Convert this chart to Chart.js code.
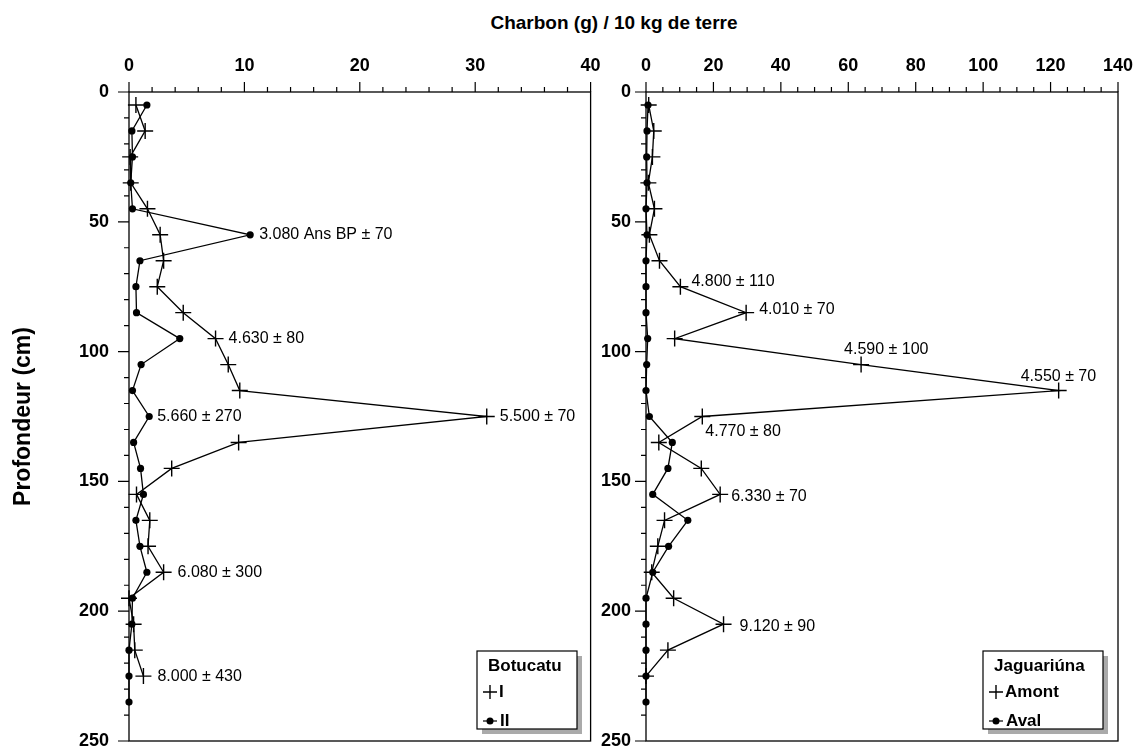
<!DOCTYPE html>
<html>
<head>
<meta charset="utf-8">
<script src="https://cdn.jsdelivr.net/npm/chart.js@4.4.1/dist/chart.umd.min.js"></script>
<style>
    html, body { margin: 0; padding: 0; background: #fff; }
    body { width: 1138px; height: 753px; position: relative; overflow: hidden; font-family: "Liberation Sans", Arial, sans-serif; }
    #title { position: absolute; left: 414px; width: 400px; top: 12px; text-align: center; font-weight: bold; font-size: 19px; line-height: 21px; color: #000; }
    canvas { position: absolute; top: 0; }
    #left { left: 0; }
    #right { left: 600px; }
</style>
</head>
<body>
<div id="title">Charbon (g) / 10 kg de terre</div>
<canvas id="left" width="600" height="753"></canvas>
<canvas id="right" width="538" height="753"></canvas>
<script>
// Depth (cm) of each sample
const depths = [5, 15, 25, 35, 45, 55, 65, 75, 85, 95, 105, 115, 125, 135, 145, 155, 165, 175, 185, 195, 205, 215, 225, 235];

// Botucatu
const botucatuI  = [0.6, 1.4, 0.1, 0.15, 1.6, 2.7, 3.0, 2.45, 4.7, 7.5, 8.6, 9.6, 31.0, 9.5, 3.7, 0.65, 1.8, 1.65, 3.0, 0, 0.4, 0.5, 1.25];
const botucatuII = [1.55, 0.25, 0.3, 0.15, 0.3, 10.5, 0.95, 0.6, 0.65, 4.4, 1.05, 0.3, 1.75, 0.4, 1.0, 1.25, 0.6, 0.95, 1.55, 0.3, 0.25, 0, 0, 0];

// Jaguariúna
const jaguarAmont = [0.8, 2.3, 1.9, 0.7, 2.5, 1.0, 4.0, 10.2, 29.7, 8.5, 63.8, 122.4, 16.7, 3.8, 16.4, 22.0, 5.5, 3.5, 1.7, 8.2, 23.0, 6.5, 0];
const jaguarAval  = [0.6, 0.3, 0.2, 0.3, 0, 0.3, 0, 0, 0, 0.5, 0.2, 0, 1.0, 7.8, 6.5, 2.0, 12.4, 6.7, 2.0, 0, 0, 0, 0, 0];

// Tick labels
const botucatuXTicks = [0, 10, 20, 30, 40];
const jaguarXTicks = [0, 20, 40, 60, 80, 100, 120, 140];
const depthTicks = [0, 50, 100, 150, 200, 250];

// Dates written next to points: series (0 = crosses, 1 = dots), depth, text
const botNoteSeries = [1, 0, 1, 0, 0, 0];
const botNoteDepth  = [55, 95, 125, 125, 185, 225];
const botNoteText   = ['3.080 Ans BP ± 70', '4.630 ± 80', '5.660 ± 270', '5.500 ± 70', '6.080 ± 300', '8.000 ± 430'];

const jagNoteSeries = [0, 0, 0, 0, 0, 0, 0];
const jagNoteDepth  = [75, 85, 105, 115, 125, 155, 205];
const jagNoteText   = ['4.800 ± 110', '4.010 ± 70', '4.590 ± 100', '4.550 ± 70', '4.770 ± 80', '6.330 ± 70', '9.120 ± 90'];

// where each note sits relative to its point (px)
const botNoteOffset = [[9, 0], [13, 0], [8, 0], [13, 0], [14, 0], [14, 0]];
const jagNoteOffset = [[11, -5], [13, -3], [-17, -15], [-38, -14], [3, 15], [11, 2], [16, 2]];

const FONT = '"Liberation Sans", Arial, sans-serif';

function toPoints(values) {
    return values.map((v, i) => ({ x: v, y: depths[i] }));
}

function crossSet(label, values) {
    return {
        label: label,
        data: toPoints(values),
        showLine: true,
        borderColor: '#000',
        backgroundColor: '#000',
        borderWidth: 1.3,
        pointStyle: 'cross',
        pointRadius: 8,
        pointBorderWidth: 1.4,
        clip: false
    };
}

function dotSet(label, values) {
    return {
        label: label,
        data: toPoints(values),
        showLine: true,
        borderColor: '#000',
        backgroundColor: '#000',
        borderWidth: 1.3,
        pointStyle: 'circle',
        pointRadius: 3.6,
        pointBorderWidth: 0,
        clip: false
    };
}

// frame, tick marks, notes and legend drawn on the chart canvas
const panelPlugin = {
    id: 'panel',
    beforeDatasetsDraw(chart, args, opts) {
        const ctx = chart.ctx;
        const a = chart.chartArea;
        const xs = chart.scales.x;
        const ys = chart.scales.y;
        ctx.save();
        ctx.strokeStyle = '#000';
        ctx.lineWidth = 1.3;
        ctx.strokeRect(a.left, a.top, a.right - a.left, a.bottom - a.top);

        ctx.lineWidth = 1.2;
        ctx.beginPath();
        for (let v = xs.min; v <= xs.max + 1e-9; v += opts.xMinor) {
            const px = xs.getPixelForValue(v);
            const len = opts.xTicks.includes(v) ? 10 : 5;
            ctx.moveTo(px, a.top);
            ctx.lineTo(px, a.top - len);
        }
        for (let v = 0; v <= 250; v += 10) {
            const py = ys.getPixelForValue(v);
            const len = depthTicks.includes(v) ? 11 : 5;
            ctx.moveTo(a.left, py);
            ctx.lineTo(a.left - len, py);
        }
        ctx.stroke();

        if (opts.yTitle) {
            ctx.font = 'bold 23px ' + FONT;
            ctx.fillStyle = '#000';
            ctx.textAlign = 'center';
            ctx.textBaseline = 'middle';
            ctx.translate(24, (a.top + a.bottom) / 2);
            ctx.rotate(-Math.PI / 2);
            ctx.fillText(opts.yTitle, 0, 0);
        }
        ctx.restore();
    },
    afterDatasetsDraw(chart, args, opts) {
        const ctx = chart.ctx;
        const xs = chart.scales.x;
        const ys = chart.scales.y;
        ctx.save();
        ctx.fillStyle = '#000';
        ctx.font = '16px ' + FONT;
        ctx.textAlign = 'left';
        ctx.textBaseline = 'middle';
        opts.noteText.forEach((txt, i) => {
            const idx = depths.indexOf(opts.noteDepth[i]);
            const pt = chart.data.datasets[opts.noteSeries[i]].data[idx];
            const px = xs.getPixelForValue(pt.x) + opts.noteOffset[i][0];
            const py = ys.getPixelForValue(pt.y) + opts.noteOffset[i][1];
            ctx.fillText(txt, px, py);
        });

        // legend box
        const L = opts.legend;
        ctx.fillStyle = '#aaa';
        ctx.fillRect(L.x + 5, L.y + 5, L.w, L.h);
        ctx.fillStyle = '#fff';
        ctx.fillRect(L.x, L.y, L.w, L.h);
        ctx.strokeStyle = '#000';
        ctx.lineWidth = 1.2;
        ctx.strokeRect(L.x, L.y, L.w, L.h);

        ctx.fillStyle = '#000';
        ctx.font = 'bold 17px ' + FONT;
        ctx.fillText(L.title, L.x + 11, L.y + 15);

        const ds = chart.data.datasets;
        const sx = L.x + 13;
        // cross row
        let ry = L.y + 41;
        ctx.lineWidth = 1.4;
        ctx.beginPath();
        ctx.moveTo(sx - 7, ry); ctx.lineTo(sx + 7, ry);
        ctx.moveTo(sx, ry - 7); ctx.lineTo(sx, ry + 7);
        ctx.stroke();
        ctx.fillText(ds[0].label, sx + 9, ry);
        // dot row
        ry = L.y + 70;
        ctx.lineWidth = 1.2;
        ctx.beginPath();
        ctx.moveTo(sx - 7, ry); ctx.lineTo(sx + 7, ry);
        ctx.stroke();
        ctx.beginPath();
        ctx.arc(sx, ry, 3.5, 0, Math.PI * 2);
        ctx.fill();
        ctx.fillText(ds[1].label, sx + 10, ry);
        ctx.restore();
    }
};

function noPadding(s) {
    s.paddingLeft = 0;
    s.paddingRight = 0;
    s.paddingTop = 0;
    s.paddingBottom = 0;
}

function makeScales(xMax, xTicks, yWidth, yPad) {
    return {
        x: {
            type: 'linear',
            position: 'top',
            min: 0,
            max: xMax,
            afterBuildTicks: s => { s.ticks = xTicks.map(v => ({ value: v })); },
            afterFit: s => { s.height = 92; noPadding(s); },
            ticks: { color: '#000', font: { family: FONT, size: 18, weight: 'bold' }, padding: 15, maxRotation: 0, autoSkip: false },
            grid: { display: false, drawTicks: false },
            border: { display: false }
        },
        y: {
            type: 'linear',
            reverse: true,
            min: 0,
            max: 250,
            afterBuildTicks: s => { s.ticks = depthTicks.map(v => ({ value: v })); },
            afterFit: s => { s.width = yWidth; noPadding(s); },
            ticks: { color: '#000', font: { family: FONT, size: 18, weight: 'bold' }, padding: yPad, autoSkip: false },
            grid: { display: false, drawTicks: false },
            border: { display: false }
        }
    };
}

document.addEventListener('DOMContentLoaded', () => {
    new Chart(document.getElementById('left'), {
        type: 'scatter',
        data: { datasets: [crossSet('I', botucatuI), dotSet('II', botucatuII)] },
        options: {
            responsive: false,
            animation: false,
            events: [],
            layout: { padding: { top: 0, left: 0, right: 9, bottom: 12 } },
            scales: makeScales(40, botucatuXTicks, 129, 20),
            plugins: {
                legend: { display: false },
                tooltip: { enabled: false },
                panel: {
                    xTicks: botucatuXTicks, xMinor: 2,
                    yTitle: 'Profondeur (cm)',
                    noteSeries: botNoteSeries, noteDepth: botNoteDepth, noteText: botNoteText, noteOffset: botNoteOffset,
                    legend: { x: 477, y: 651, w: 100, h: 78, title: 'Botucatu' }
                }
            }
        },
        plugins: [panelPlugin]
    });

    new Chart(document.getElementById('right'), {
        type: 'scatter',
        data: { datasets: [crossSet('Amont', jaguarAmont), dotSet('Aval', jaguarAval)] },
        options: {
            responsive: false,
            animation: false,
            events: [],
            layout: { padding: { top: 0, left: 0, right: 20, bottom: 12 } },
            scales: makeScales(140, jaguarXTicks, 46, 15),
            plugins: {
                legend: { display: false },
                tooltip: { enabled: false },
                panel: {
                    xTicks: jaguarXTicks, xMinor: 5,
                    yTitle: null,
                    noteSeries: jagNoteSeries, noteDepth: jagNoteDepth, noteText: jagNoteText, noteOffset: jagNoteOffset,
                    legend: { x: 383, y: 651, w: 120, h: 78, title: 'Jaguariúna' }
                }
            }
        },
        plugins: [panelPlugin]
    });
});
</script>
</body>
</html>
